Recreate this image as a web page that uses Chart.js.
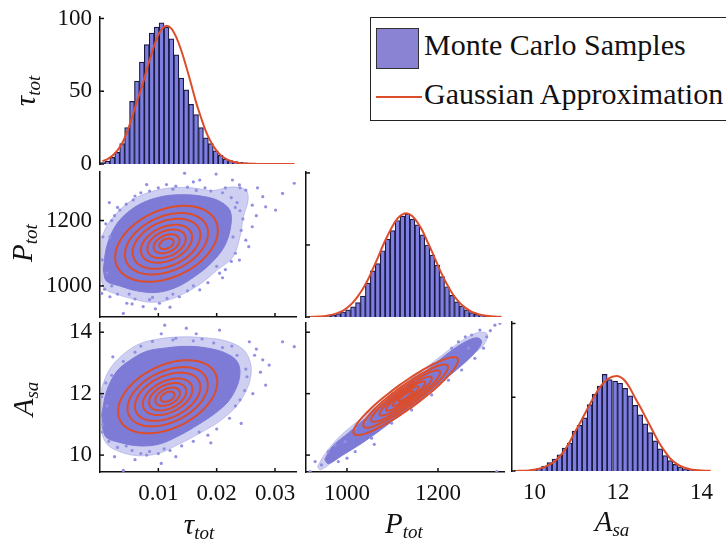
<!DOCTYPE html>
<html>
<head>
<meta charset="utf-8">
<script src="https://cdn.jsdelivr.net/npm/chart.js@4.4.1/dist/chart.umd.min.js"></script>
<style>
  body { margin: 0; background: #fff; }
  #fig { position: relative; width: 726px; height: 539px; overflow: hidden; font-family: 'Liberation Serif', serif; color: #111; }
  #fig canvas { position: absolute; }
  .lbl { position: absolute; font-style: italic; font-size: 29px; line-height: 29px; white-space: nowrap; transform: translate(-50%, -50%); }
  .lbl sub { font-size: 19px; vertical-align: -5px; line-height: 0; }
  .rot { transform: translate(-50%, -50%) rotate(-90deg); }
  #legend { position: absolute; left: 370px; top: 17px; width: 380px; height: 104px; border: 1.5px solid #222; box-sizing: border-box; background: #fff; }
  #legend .txt { position: absolute; left: 53px; font-size: 30px; line-height: 30px; white-space: nowrap; }
  #legend .swatch { position: absolute; left: 5px; top: 10px; width: 43px; height: 41px; background: #8a82d2; border: 1.5px solid #333; box-sizing: border-box; }
  #legend .dash { position: absolute; left: 5px; top: 78px; width: 46px; height: 2px; background: #dc4d2c; }
</style>
</head>
<body>
<div id="fig">
  <canvas id="tauHist" width="300" height="190" style="left:0;top:0"></canvas>
  <canvas id="tauP" width="300" height="175" style="left:0;top:160px"></canvas>
  <canvas id="tauA" width="300" height="229" style="left:0;top:310px"></canvas>
  <canvas id="pHist" width="208" height="175" style="left:300px;top:160px"></canvas>
  <canvas id="pA" width="208" height="229" style="left:300px;top:310px"></canvas>
  <canvas id="aHist" width="221" height="229" style="left:505px;top:310px"></canvas>

  <div id="legend">
    <span class="swatch"></span><span class="txt" style="top:12px">Monte Carlo Samples</span>
    <span class="dash"></span><span class="txt" style="top:61px">Gaussian Approximation</span>
  </div>

  <span class="lbl" style="left:199px;top:524px">τ<sub>tot</sub></span>
  <span class="lbl" style="left:404px;top:523px">P<sub>tot</sub></span>
  <span class="lbl" style="left:612px;top:521px">A<sub>sa</sub></span>
  <span class="lbl rot" style="left:25px;top:91px">τ<sub>tot</sub></span>
  <span class="lbl rot" style="left:22px;top:243px">P<sub>tot</sub></span>
  <span class="lbl rot" style="left:23px;top:399px">A<sub>sa</sub></span>
</div>

<script>
// ---- histogramas (centro de cada clase, cuentas y curva gaussiana) ----
const tauBins = [0.00042, 0.00126, 0.0021, 0.00294, 0.00378, 0.00462, 0.00546, 0.0063, 0.00714, 0.00798,
  0.00882, 0.00966, 0.0105, 0.01134, 0.01218, 0.01302, 0.01386, 0.0147, 0.01554, 0.01638,
  0.01722, 0.01806, 0.0189, 0.01974, 0.02058, 0.02142, 0.02226, 0.0231, 0.02394, 0.02478,
  0.02562, 0.02646, 0.0273, 0.02814, 0.02898, 0.02982, 0.03066, 0.0315, 0.03234, 0.03318];
const tauCounts = [1, 2, 4.5, 8, 14, 25, 43, 57, 70, 82, 90, 94, 97, 94, 86, 75, 59, 51, 41, 34,
  25, 18, 14, 9, 6, 3.4, 2.3, 1.6, 1.1, 0.8, 0.6, 0.5, 0.3, 0.3, 0.2, 0.5, 0, 0, 0, 0];
const tauFit = [1.9, 3.3, 5.7, 9.2, 14.2, 22, 32, 43, 53, 65, 76, 86, 92.5, 95, 93, 87, 78, 67, 55, 42.5,
  32, 22.5, 15.3, 9.9, 6.1, 3.7, 2.1, 1.1, 0.6, 0.3, 0.15, 0.1, 0, 0, 0, 0, 0, 0, 0, 0];

const pBins = [915.4, 926.3, 937.2, 948.0, 958.9, 969.8, 980.7, 991.5, 1002.4, 1013.3,
  1024.2, 1035.0, 1045.9, 1056.8, 1067.7, 1078.5, 1089.4, 1100.3, 1111.2, 1122.0,
  1132.9, 1143.8, 1154.7, 1165.5, 1176.4, 1187.3, 1198.2, 1209.0, 1219.9, 1230.8,
  1241.7, 1252.5, 1263.4, 1274.3, 1285.2, 1296.0, 1306.9, 1317.8, 1328.7, 1339.5];
const pCounts = [0, 0, 0, 0.3, 0.7, 1.2, 2.3, 3.5, 5, 7, 10, 14.5, 23.5, 32, 37, 46, 54, 60, 67, 70,
  71.5, 68, 64, 57, 50, 43, 36, 28, 21, 15, 10.5, 7.5, 5, 3, 1.8, 1, 0.4, 0, 0, 0];
const pFit = [0, 0.2, 0.3, 0.6, 1.1, 1.8, 2.9, 4.5, 7, 10.2, 14.5, 19.6, 25.9, 33.3, 41, 49.3, 56.6, 63.2, 68.4, 71.3,
  71.9, 70, 65.8, 60, 52.6, 45, 37, 29.4, 22.6, 16.7, 12, 8.3, 5.6, 3.6, 2.3, 1.4, 0.8, 0.45, 0.25, 0.13];

const aBins = [9.51, 9.63, 9.75, 9.87, 9.99, 10.11, 10.23, 10.36, 10.48, 10.60,
  10.72, 10.84, 10.96, 11.08, 11.20, 11.32, 11.44, 11.56, 11.68, 11.80,
  11.93, 12.05, 12.17, 12.29, 12.41, 12.53, 12.65, 12.77, 12.89, 13.01,
  13.13, 13.25, 13.37, 13.49, 13.61, 13.74, 13.86, 13.98, 14.10, 14.22];
const aCounts = [0, 0, 0, 0.7, 1.1, 1.8, 3.4, 5.7, 8, 11, 15.5, 19, 27, 31, 36, 45, 52, 57.5, 65.5, 62,
  61, 59.5, 56, 51, 44.5, 38, 32, 26, 20.5, 15, 10.5, 7, 4.5, 2.8, 1.5, 0.7, 0.3, 0.7, 0, 0];
const aFit = [0.05, 0.1, 0.2, 0.4, 0.8, 1.5, 2.6, 4.3, 6.5, 9.8, 14, 19.5, 26, 32, 38.5, 45, 51, 56.5, 60.5, 63.2,
  64.3, 63.8, 61, 56, 49.5, 43.5, 37, 30.5, 24, 18, 13, 8.5, 5.5, 3.4, 2, 1.1, 0.6, 0.3, 0.15, 0.1];

// ---- ejes ----
const tauTicks = [0.01, 0.02, 0.03];
const pTicks = [1000, 1200];
const aTicks = [10, 12, 14];
const countTicks = [0, 50, 100];

// ---- nubes de muestras: halo claro, zona densa y muestras sueltas ----
const tauPHalo = [[0.0003, 1150], [0.0011, 1181], [0.0028, 1222], [0.0051, 1258], [0.0074, 1280], [0.0102, 1295],
  [0.0131, 1301], [0.0159, 1300], [0.0193, 1292], [0.0227, 1303], [0.0250, 1293], [0.0254, 1263], [0.0246, 1212],
  [0.0240, 1151], [0.0228, 1089], [0.0200, 1047], [0.0172, 1006], [0.0142, 975], [0.0114, 955], [0.0085, 950],
  [0.0057, 960], [0.0028, 975], [0.0006, 996], [0.0003, 1049]];
const tauPCore = [[0.00056, 1049], [0.00114, 1120], [0.00256, 1181], [0.00455, 1222], [0.00739, 1255], [0.0108, 1274],
  [0.0142, 1279], [0.0176, 1274], [0.0205, 1259], [0.0223, 1230], [0.0224, 1181], [0.0213, 1120], [0.0190, 1069],
  [0.0163, 1030], [0.0131, 996], [0.0097, 980], [0.0063, 985], [0.0034, 1000], [0.0011, 1015]];
const tauPSamples = [[0.0060, 1275], [0.0085, 1290], [0.0100, 1300], [0.0125, 1296], [0.0150, 1302], [0.0165, 1292],
  [0.0190, 1290], [0.0210, 1285], [0.0225, 1270], [0.0235, 1255], [0.0240, 1300], [0.0250, 1293], [0.0239, 1309],
  [0.0227, 1324], [0.0171, 1324], [0.0114, 1310], [0.0145, 1345], [0.0199, 1342], [0.0240, 1230], [0.0245, 1205],
  [0.0242, 1170], [0.0250, 1140], [0.0261, 1181], [0.0261, 1247], [0.0279, 1273], [0.0284, 1242], [0.0301, 1232],
  [0.0313, 1283], [0.0333, 1314], [0.0232, 1100], [0.0225, 1075], [0.0239, 1079], [0.0215, 1050], [0.0205, 1039],
  [0.0185, 1010], [0.0171, 988], [0.0150, 985], [0.0136, 967], [0.0115, 962], [0.0102, 947], [0.0085, 958],
  [0.0074, 937], [0.0060, 960], [0.0046, 947], [0.0040, 916], [0.0030, 975], [0.0017, 967], [0.0008, 990],
  [0.0003, 977], [0.0120, 935], [0.0005, 1150], [0.0017, 1150], [0.0010, 1190], [0.0025, 1215], [0.0034, 1232],
  [0.0045, 1250], [0.0057, 1263], [0.0004, 1080], [0.0070, 1285], [0.0130, 1305], [0.0180, 1300], [0.0215, 1300],
  [0.0232, 1240], [0.0228, 1150], [0.0200, 1060], [0.0160, 1000], [0.0125, 975], [0.0090, 965], [0.0050, 975],
  [0.0020, 1000], [0.0012, 1040], [0.0030, 1240], [0.0020, 1200], [0.0268, 1215], [0.0255, 1120], [0.0210, 1025],
  [0.0095, 930], [0.0055, 945], [0.0016, 1255], [0.0080, 1310], [0.0160, 1318], [0.0270, 1300]];

const tauAHalo = [[0.0003, 12.2], [0.0015, 12.75], [0.0035, 13.2], [0.0065, 13.6], [0.0100, 13.78], [0.0140, 13.85],
  [0.0180, 13.82], [0.0215, 13.72], [0.0245, 13.45], [0.0258, 13.0], [0.0258, 12.5], [0.0248, 12.0], [0.0232, 11.55],
  [0.0205, 11.1], [0.0170, 10.7], [0.0135, 10.35], [0.0100, 10.05], [0.0065, 9.98], [0.0035, 10.1], [0.0012, 10.35],
  [0.0003, 10.8]];
const tauACore = [[0.0003, 11.31], [0.0011, 12.06], [0.0028, 12.71], [0.0051, 13.08], [0.0080, 13.38], [0.0114, 13.49],
  [0.0148, 13.54], [0.0182, 13.49], [0.0214, 13.33], [0.0236, 13.02], [0.0239, 12.50], [0.0224, 11.85], [0.0202, 11.43],
  [0.0169, 11.00], [0.0135, 10.63], [0.0102, 10.36], [0.0068, 10.30], [0.0034, 10.41], [0.0009, 10.62]];
const tauASamples = [[0.0090, 13.70], [0.0125, 13.75], [0.0160, 13.72], [0.0195, 13.65], [0.0105, 13.95], [0.0111, 14.23],
  [0.0148, 14.13], [0.0205, 14.07], [0.0256, 13.69], [0.0313, 13.69], [0.0333, 13.53], [0.0279, 13.10], [0.0265, 13.25],
  [0.0250, 12.80], [0.0290, 12.93], [0.0284, 12.28], [0.0226, 13.55], [0.0060, 13.35], [0.0040, 13.05], [0.0020, 12.60],
  [0.0010, 12.35], [0.0003, 11.90], [0.0248, 12.10], [0.0240, 11.80], [0.0242, 11.03], [0.0222, 11.20], [0.0200, 10.85],
  [0.0185, 10.65], [0.0160, 10.45], [0.0140, 10.30], [0.0120, 10.15], [0.0100, 10.05], [0.0085, 10.12], [0.0070, 10.05],
  [0.0055, 10.15], [0.0080, 10.00], [0.0060, 9.85], [0.0105, 9.73], [0.0030, 10.25], [0.0015, 10.45], [0.0004, 10.75],
  [0.0005, 11.00], [0.0040, 9.50], [0.0070, 13.55], [0.0130, 13.80], [0.0175, 13.78], [0.0210, 13.50], [0.0235, 13.25],
  [0.0252, 12.55], [0.0232, 11.60], [0.0170, 10.75], [0.0110, 10.20], [0.0045, 10.30], [0.0012, 11.60], [0.0268, 13.45],
  [0.0262, 12.00], [0.0190, 10.40], [0.0130, 9.95], [0.0025, 9.95], [0.0022, 13.20], [0.0165, 13.95], [0.0275, 12.70]];

const pAHalo = [[935, 9.62], [952, 10.05], [985, 10.62], [1030, 11.18], [1075, 11.72], [1120, 12.25], [1165, 12.75],
  [1210, 13.27], [1250, 13.7], [1285, 13.98], [1308, 13.95], [1302, 13.62], [1272, 13.22], [1232, 12.70], [1187, 12.15],
  [1142, 11.62], [1097, 11.10], [1052, 10.60], [1007, 10.15], [967, 9.76], [942, 9.52]];
const pACore = [[951, 9.86], [968, 10.28], [1003, 10.72], [1047, 11.28], [1091, 11.82], [1135, 12.32], [1179, 12.80],
  [1223, 13.33], [1259, 13.68], [1285, 13.82], [1296, 13.70], [1285, 13.40], [1252, 12.92], [1208, 12.38], [1164, 11.84],
  [1120, 11.34], [1076, 10.84], [1032, 10.38], [988, 9.98], [959, 9.72]];
const pASamples = [[1325, 14.23], [1336, 14.29], [1292, 14.07], [1274, 13.91], [1307, 13.85], [1267, 13.48], [1245, 13.69],
  [1230, 13.48], [1201, 13.04], [1164, 12.61], [1128, 12.17], [1098, 11.96], [1069, 11.52], [1040, 11.09], [1018, 10.87],
  [996, 10.44], [974, 10.33], [959, 10.11], [930, 9.79], [919, 9.46], [944, 9.68], [981, 9.79], [1018, 10.11],
  [1054, 10.55], [1098, 11.04], [1142, 11.47], [1186, 11.96], [1223, 12.44], [1252, 12.77], [1281, 13.15],
  [1300, 13.48], [1329, 9.46], [1315, 14.05], [1260, 13.85], [1190, 12.95], [1150, 12.45], [1060, 10.35], [1000, 9.90]];

// elipses de la aproximación gaussiana: [media x, media y, semiancho x, semialto y, correlación]
const tauPEllipse = [0.0114, 1129, 0.0088, 116, 0.35];
const tauAEllipse = [0.0116, 11.90, 0.0085, 1.19, 0.40];
const pAEllipse = [1129, 11.92, 115, 1.27, 0.92];
const contourLevels = [1, 0.81, 0.66, 0.5, 0.375, 0.25, 0.14];

const RED = '#dc4d2c';
const BAR = '#7e7ee0';
const EDGE = '#1a1a42';
const HALO = 'rgba(140, 140, 225, 0.42)';
const CLOUD = '#7d7bd5';
const DOT = '#9090e2';

Chart.defaults.font.family = "'Liberation Serif', serif";
Chart.defaults.font.size = 23;
Chart.defaults.color = '#111';
Chart.defaults.animation = false;

// marcas de los ejes hacia dentro, como en MATLAB
const inwardTicks = {
    id: 'inwardTicks',
    afterDraw(chart, args, opts) {
        const ctx = chart.ctx, a = chart.chartArea;
        ctx.save();
        ctx.strokeStyle = '#111';
        ctx.lineWidth = 1.5;
        (opts.x || []).forEach(v => {
            const px = chart.scales.x.getPixelForValue(v);
            ctx.beginPath(); ctx.moveTo(px, a.bottom); ctx.lineTo(px, a.bottom - 4); ctx.stroke();
        });
        (opts.y || []).forEach(v => {
            const py = chart.scales.y.getPixelForValue(v);
            ctx.beginPath(); ctx.moveTo(a.left, py); ctx.lineTo(a.left + 4, py); ctx.stroke();
        });
        ctx.restore();
    }
};

// contornos de la gaussiana bivariante
const gaussContours = {
    id: 'gaussContours',
    afterDatasetsDraw(chart, args, opts) {
        if (!opts.ellipse) return;
        const e = opts.ellipse;
        const xs = chart.scales.x, ys = chart.scales.y, ctx = chart.ctx, a = chart.chartArea;
        const cx = xs.getPixelForValue(e[0]), cy = ys.getPixelForValue(e[1]);
        const rx = xs.getPixelForValue(e[0] + e[2]) - cx;
        const ry = ys.getPixelForValue(e[1] + e[3]) - cy;
        const s = Math.sqrt(1 - e[4] * e[4]);
        ctx.save();
        ctx.beginPath(); ctx.rect(a.left, a.top, a.right - a.left, a.bottom - a.top); ctx.clip();
        ctx.strokeStyle = RED;
        ctx.lineWidth = 2;
        opts.levels.forEach(k => {
            ctx.beginPath();
            for (let i = 0; i <= 120; i++) {
                const t = i / 120 * 2 * Math.PI;
                const px = cx + k * rx * Math.cos(t);
                const py = cy + k * ry * (e[4] * Math.cos(t) + s * Math.sin(t));
                if (i === 0) ctx.moveTo(px, py); else ctx.lineTo(px, py);
            }
            ctx.closePath();
            ctx.stroke();
        });
        ctx.restore();
    }
};

// eje lineal con tamaño fijo para que las áreas queden alineadas
function axis(min, max, o) {
    return {
        type: 'linear', min: min, max: max, offset: false,
        display: o.show !== false,
        grid: { display: false, drawTicks: false },
        border: { display: !!o.border, color: '#111', width: 1.5 },
        ticks: { display: !!o.labels, padding: o.pad || 8, color: '#111', callback: v => String(v) },
        afterBuildTicks: s => { s.ticks = (o.labels || []).map(v => ({ value: v })); },
        afterFit: s => {
            if (s.isHorizontal()) s.height = o.size || 0; else s.width = o.size || 0;
            s.paddingTop = 0; s.paddingBottom = 0; s.paddingLeft = 0; s.paddingRight = 0;
        }
    };
}

function createHist(id, bins, counts, fit, xMin, xMax, o) {
    return new Chart(document.getElementById(id), {
        type: 'bar',
        data: {
            datasets: [{
                type: 'line',
                data: bins.map((b, i) => ({ x: b, y: fit[i] })),
                borderColor: RED,
                borderWidth: 2,
                pointRadius: 0,
                tension: 0.4,
                order: 0
            }, {
                data: bins.map((b, i) => ({ x: b, y: counts[i] })),
                backgroundColor: BAR,
                borderColor: EDGE,
                borderWidth: 1.2,
                barPercentage: 1,
                categoryPercentage: 1,
                order: 1
            }]
        },
        options: {
            responsive: false,
            layout: { padding: o.padding },
            scales: {
                x: axis(xMin, xMax, o.x),
                y: axis(0, 101, o.y)
            },
            plugins: {
                legend: { display: false },
                tooltip: { enabled: false },
                inwardTicks: { y: countTicks }
            }
        },
        plugins: [inwardTicks]
    });
}

function createScatter(id, halo, core, samples, ellipse, xr, yr, o) {
    const pts = arr => arr.map(p => ({ x: p[0], y: p[1] }));
    const shape = (arr, color, order) => ({
        data: pts(arr.concat([arr[0]])),
        showLine: true,
        fill: 'shape',
        backgroundColor: color,
        borderColor: color,
        borderWidth: 1,
        pointRadius: 0,
        tension: 0.35,
        order: order
    });
    return new Chart(document.getElementById(id), {
        type: 'scatter',
        data: {
            datasets: [{
                data: pts(samples),
                pointRadius: 1.6,
                pointBorderWidth: 0,
                pointBackgroundColor: DOT,
                order: 1
            }, shape(core, CLOUD, 2), shape(halo, HALO, 3)]
        },
        options: {
            responsive: false,
            layout: { padding: o.padding },
            scales: {
                x: axis(xr[0], xr[1], o.x),
                y: axis(yr[0], yr[1], o.y)
            },
            plugins: {
                legend: { display: false },
                tooltip: { enabled: false },
                inwardTicks: { x: o.x.ticks, y: o.y.ticks },
                gaussContours: { ellipse: ellipse, levels: contourLevels }
            }
        },
        plugins: [inwardTicks, gaussContours]
    });
}

const tauRange = [0, 0.0336], pRange = [910, 1345], aRange = [9.45, 14.3];

createHist('tauHist', tauBins, tauCounts, tauFit, tauRange[0], tauRange[1], {
    padding: { left: 0, top: 17, right: 3, bottom: 26 },
    x: { show: false },
    y: { border: true, labels: countTicks, size: 100 }
});
createHist('pHist', pBins, pCounts, pFit, pRange[0], pRange[1], {
    padding: { left: 0, top: 11.5, right: 4, bottom: 18 },
    x: { show: false },
    y: { border: true, size: 6 }
});
createHist('aHist', aBins, aCounts, aFit, 9.45, 14.25, {
    padding: { left: 0, top: 12, right: 14, bottom: 0 },
    x: { labels: aTicks, size: 68 },
    y: { border: true, size: 6.5 }
});

createScatter('tauP', tauPHalo, tauPCore, tauPSamples, tauPEllipse, tauRange, [905, 1350], {
    padding: { left: 0, top: 11.5, right: 3, bottom: 18 },
    x: { border: true, ticks: tauTicks },
    y: { border: true, labels: pTicks, ticks: pTicks, size: 100 }
});
createScatter('tauA', tauAHalo, tauACore, tauASamples, tauAEllipse, tauRange, aRange, {
    padding: { left: 0, top: 13, right: 3, bottom: 0 },
    x: { border: true, labels: tauTicks, ticks: tauTicks, size: 67 },
    y: { border: true, labels: aTicks, ticks: aTicks, size: 100 }
});
createScatter('pA', pAHalo, pACore, pASamples, pAEllipse, pRange, aRange, {
    padding: { left: 0, top: 13, right: 4, bottom: 0 },
    x: { border: true, labels: pTicks, ticks: pTicks, size: 67 },
    y: { border: true, ticks: aTicks, size: 6 }
});
</script>
</body>
</html>
